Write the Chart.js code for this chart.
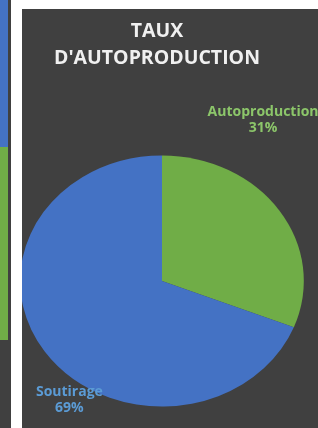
<!DOCTYPE html>
<html>
<head>
<meta charset="utf-8">
<script src="https://cdn.jsdelivr.net/npm/chart.js@4.4.1/dist/chart.umd.min.js"></script>
<style>
  html,body{margin:0;padding:0;background:#fff;width:318px;height:428px;overflow:hidden;}
  #strip{position:absolute;left:0;top:0;width:11px;height:428px;background:#404040;}
  #stripBlue{position:absolute;left:0;top:0;width:8px;height:147px;background:#4472c4;}
  #stripGreen{position:absolute;left:0;top:147px;width:8px;height:193px;background:#70ad47;}
  #panel{position:absolute;left:22px;top:9px;width:296px;height:419px;background:#404040;overflow:hidden;}
  #title{position:absolute;left:0;top:7px;width:270px;text-align:center;color:#f0f0f0;
         font:bold 19.5px/27px 'Open Sans';}
  #pie{position:absolute;left:0;top:0;}
</style>
</head>
<body>
<div id="strip"><div id="stripBlue"></div><div id="stripGreen"></div></div>
<div id="panel">
  <canvas id="pie" width="296" height="419"></canvas>
  <div id="title"></div>
</div>
<script>
const titleLines = ["TAUX", "D'AUTOPRODUCTION"];
const categories = ["Autoproduction", "Soutirage"];
const shares = [31, 69];
const sliceColors = ["#70ad47", "#4472c4"];
const labelColors = ["#8cc66a", "#5b9bd5"];

// horizontal stretch of the pie (the original is an ellipse)
const STRETCH = 1.13;

titleLines.forEach(t => {
  const d = document.createElement("div");
  d.textContent = t;
  document.getElementById("title").appendChild(d);
});

const ellipsePlugin = {
  id: "ellipse",
  beforeDatasetsDraw(chart){
    const a = chart.chartArea;
    const cx = (a.left + a.right) / 2;
    const ctx = chart.ctx;
    ctx.save();
    ctx.translate(cx, 0);
    ctx.scale(STRETCH, 1);
    ctx.translate(-cx, 0);
  },
  afterDatasetsDraw(chart){
    chart.ctx.restore();
  }
};

// labels like Excel's "best fit" data labels
const sliceLabels = {
  id: "sliceLabels",
  afterDraw(chart, args, opts){
    const ctx = chart.ctx;
    const meta = chart.getDatasetMeta(0);
    const total = shares.reduce((a,b)=>a+b,0);
    meta.data.forEach((arc, i) => {
      const p = opts.pos[i];
      const r = arc.outerRadius * p.dist;
      const ang = p.angle * Math.PI / 180;
      const x = arc.x + Math.sin(ang) * r * STRETCH;
      const y = arc.y - Math.cos(ang) * r;
      const pct = Math.round(shares[i] / total * 100) + "%";
      ctx.save();
      ctx.fillStyle = labelColors[i];
      ctx.font = "bold 14px 'Open Sans'";
      ctx.textAlign = "center";
      ctx.textBaseline = "middle";
      ctx.fillText(categories[i], x, y - 8);
      ctx.fillText(pct, x, y + 8);
      ctx.restore();
    });
  }
};

new Chart(document.getElementById("pie").getContext("2d"), {
  type: "pie",
  data: {
    labels: categories,
    datasets: [{
      data: shares,
      backgroundColor: sliceColors,
      borderWidth: 0,
      clip: false
    }]
  },
  options: {
    responsive: false,
    animation: false,
    events: [],
    layout: { padding: { top: 146.5, left: 14.5, right: 30.5, bottom: 21.5 } },
    plugins: {
      legend: { display: false },
      tooltip: { enabled: false },
      title: { display: false },
      sliceLabels: {
        pos: [ { angle: 29, dist: 1.47 }, { angle: 214.6, dist: 1.15 } ]
      }
    }
  },
  plugins: [ellipsePlugin, sliceLabels]
});
</script>
</body>
</html>
